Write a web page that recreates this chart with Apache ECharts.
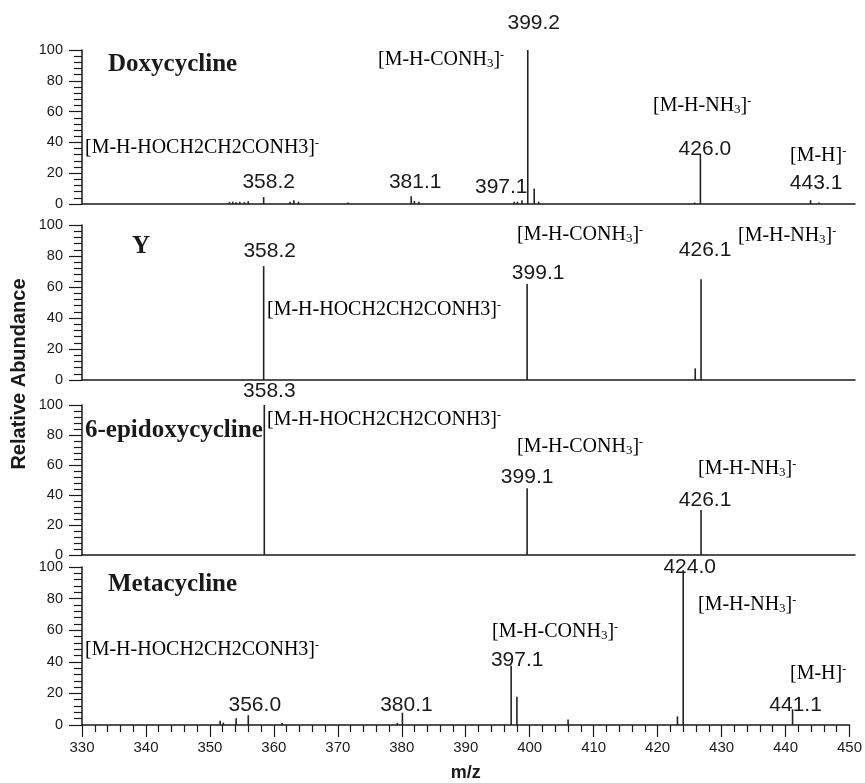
<!DOCTYPE html>
<html>
<head>
<meta charset="utf-8">
<script src="https://cdn.jsdelivr.net/npm/echarts@6/dist/echarts.min.js"></script>
<style>
  html, body { margin: 0; padding: 0; background: #ffffff; }
  #chart { width: 865px; height: 783px; }
</style>
</head>
<body>
<div id="chart"></div>
<script>
// ---- data -------------------------------------------------------------
const mzRange = [330, 450];
const mzTickStep = 10;
const abundanceRange = [0, 100];
const abundanceTickStep = 20;
const panelNames = ['Doxycycline', 'Y', '6-epidoxycycline', 'Metacycline'];

// Doxycycline MS/MS peaks (m/z, relative abundance %)
const doxyMz = [352.9, 353.4, 353.9, 354.5, 355.2, 355.8, 358.2, 362.3, 362.9, 363.6, 371.3,
                381.1, 381.6, 382.3, 397.1, 397.6, 398.3, 399.2, 400.2, 400.9, 425.1, 426.0, 443.1, 444.4];
const doxyAb = [1.2, 1.5, 1.2, 1.5, 1.2, 1.8, 4.5, 1.5, 2.5, 1.5, 1.0,
                5.0, 2.0, 1.5, 1.5, 1.5, 2.5, 100, 10, 1.5, 1.0, 32, 2.5, 1.0];
const doxyLabeled = [358.2, 381.1, 397.1, 399.2, 426.0, 443.1];

// Impurity Y
const yMz = [358.2, 399.1, 425.2, 426.1];
const yAb = [73.5, 62, 7.5, 65];
const yLabeled = [358.2, 399.1, 426.1];

// 6-epidoxycycline
const epiMz = [358.3, 399.1, 426.1];
const epiAb = [100, 44.5, 30];
const epiLabeled = [358.3, 399.1, 426.1];

// Metacycline
const metaMz = [351.6, 352.1, 354.1, 356.0, 361.3, 379.3, 380.1, 397.1, 398.0, 406.0, 423.1, 424.0, 441.1];
const metaAb = [2.7, 1.5, 4.3, 6.2, 1.3, 1.3, 7.8, 37.5, 17.9, 3.5, 5.5, 98, 10];
const metaLabeled = [356.0, 380.1, 397.1, 424.0, 441.1];

const panels = [
  { mz: doxyMz, ab: doxyAb, labeled: doxyLabeled },
  { mz: yMz, ab: yAb, labeled: yLabeled },
  { mz: epiMz, ab: epiAb, labeled: epiLabeled },
  { mz: metaMz, ab: metaAb, labeled: metaLabeled }
];

// ---- layout & style ---------------------------------------------------
const SANS = "'Liberation Sans', Arial, Helvetica, sans-serif";
const SERIF = "'Liberation Serif', 'Times New Roman', serif";
const INK = '#1a1a1a';

const gridBoxes = [
  { top: 50, height: 154 },
  { top: 225, height: 155 },
  { top: 405, height: 150 },
  { top: 567, height: 162 }
];

// ion annotations in rich-text form
const ION = {
  loss: '{n|[M-H-HOCH2CH2CONH3]}{sup|-}',
  conh3: '{n|[M-H-CONH}{sub|3}{n|]}{sup|-}',
  nh3: '{n|[M-H-NH}{sub|3}{n|]}{sup|-}',
  mh: '{n|[M-H]}{sup|-}'
};

// where each ion annotation sits (left edge, vertical centre)
const ionPlacement = [
  [ ['loss', 85, 148], ['conh3', 378, 60], ['nh3', 653, 106], ['mh', 790, 156] ],
  [ ['loss', 267, 310], ['conh3', 517, 235], ['nh3', 738, 236] ],
  [ ['loss', 267, 420], ['conh3', 517, 447], ['nh3', 698, 469] ],
  [ ['loss', 85, 650], ['conh3', 492, 632], ['nh3', 698, 605], ['mh', 790, 674] ]
];

// compound names (left edge, vertical centre)
const namePlacement = [[108, 65], [132, 247], [85, 431], [108, 585]];

// m/z label placement: horizontal shift from the peak, vertical centre
const peakLabelPlacement = [
  [[5, 182], [4, 182], [-13, 187], [6, 23.5], [4.5, 149.5], [5.5, 183.5]],
  [[6, 251], [11, 273], [4, 250]],
  [[5, 391], [0, 477], [4, 500]],
  [[6.5, 705], [4, 705], [6, 660], [6.5, 567], [3, 705]]
];

const chart = echarts.init(document.getElementById('chart'), null, { renderer: 'canvas' });

const grid = gridBoxes.map(b => ({ left: 82, right: 10, top: b.top, height: b.height }));

const xAxis = gridBoxes.map((b, i) => {
  const last = i === gridBoxes.length - 1;
  return {
    gridIndex: i,
    type: 'value',
    min: mzRange[0],
    max: mzRange[1],
    interval: mzTickStep,
    axisLine: { show: true, onZero: false, lineStyle: { color: INK, width: 1.5 } },
    axisTick: { show: last, length: 12, lineStyle: { color: INK, width: 1.2 } },
    minorTick: { show: last, splitNumber: 5, length: 7, lineStyle: { color: INK, width: 1.2 } },
    axisLabel: { show: last, margin: 15, fontSize: 15, color: INK, fontFamily: SANS },
    splitLine: { show: false },
    name: last ? 'm/z' : '',
    nameLocation: 'middle',
    nameGap: 39,
    nameTextStyle: { fontSize: 18, fontWeight: 'bold', color: INK, fontFamily: SANS }
  };
});

const yAxis = gridBoxes.map((b, i) => ({
  gridIndex: i,
  type: 'value',
  min: abundanceRange[0],
  max: abundanceRange[1],
  interval: abundanceTickStep,
  axisLine: { show: true, lineStyle: { color: INK, width: 1.5 } },
  axisTick: { show: true, length: 13, lineStyle: { color: INK, width: 1.2 } },
  minorTick: { show: true, splitNumber: 5, length: 8, lineStyle: { color: INK, width: 1.2 } },
  axisLabel: { margin: 19, fontSize: 14.5, color: INK, fontFamily: SANS },
  splitLine: { show: false }
}));

// each peak is a stick from the baseline to its abundance
const series = panels.map((p, i) => ({
  type: 'custom',
  name: panelNames[i],
  xAxisIndex: i,
  yAxisIndex: i,
  encode: { x: 0, y: 1 },
  data: p.mz.map((m, k) => [m, p.ab[k]]),
  clip: false,
  renderItem: (params, api) => {
    const base = api.coord([api.value(0), 0]);
    const top = api.coord([api.value(0), api.value(1)]);
    return {
      type: 'line',
      shape: { x1: base[0], y1: base[1], x2: top[0], y2: top[1] },
      style: { stroke: '#222', lineWidth: 1.6 }
    };
  }
}));

chart.setOption({
  animation: false,
  backgroundColor: '#ffffff',
  grid, xAxis, yAxis, series
});

// ---- text annotations ------------------------------------------------
const richStyles = {
  n: { fontSize: 20, fontFamily: SERIF, color: INK },
  sub: { fontSize: 13, fontFamily: SERIF, color: INK, verticalAlign: 'bottom' },
  sup: { fontSize: 12, fontFamily: SERIF, color: INK, verticalAlign: 'top' }
};

const graphics = [];

ionPlacement.forEach(list => {
  list.forEach(([kind, x, y]) => {
    graphics.push({
      type: 'text', x, y, silent: true,
      style: { text: ION[kind], rich: richStyles, align: 'left', verticalAlign: 'middle',
               textAlign: 'left', textVerticalAlign: 'middle' }
    });
  });
});

namePlacement.forEach(([x, y], i) => {
  graphics.push({
    type: 'text', x, y, silent: true,
    style: { text: panelNames[i], fontSize: 25, fontWeight: 'bold', fontFamily: SERIF, fill: INK,
             align: 'left', verticalAlign: 'middle', textAlign: 'left', textVerticalAlign: 'middle' }
  });
});

panels.forEach((p, i) => {
  p.labeled.forEach((m, k) => {
    const [dx, y] = peakLabelPlacement[i][k];
    const px = chart.convertToPixel({ gridIndex: i }, [m, 0])[0];
    graphics.push({
      type: 'text', x: px + dx, y, silent: true,
      style: { text: m.toFixed(1), fontSize: 21, fontFamily: SANS, fill: INK,
               align: 'center', verticalAlign: 'middle', textAlign: 'center', textVerticalAlign: 'middle' }
    });
  });
});

// shared y-axis title
graphics.push({
  type: 'text', x: 19, y: 374, rotation: Math.PI / 2, silent: true,
  style: { text: 'Relative Abundance', fontSize: 20, fontWeight: 'bold', fontFamily: SANS, fill: INK,
           align: 'center', verticalAlign: 'middle', textAlign: 'center', textVerticalAlign: 'middle' }
});

chart.setOption({ graphic: graphics });
</script>
</body>
</html>
